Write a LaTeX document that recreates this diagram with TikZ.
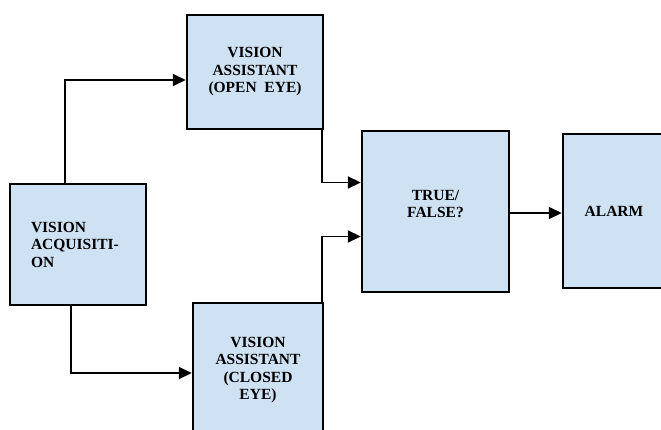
\documentclass[tikz,border=0pt]{standalone}
\usepackage{fontspec}
\setmainfont{Liberation Serif}
\usepackage{xcolor}
\usepackage{tikz}
\usetikzlibrary{arrows.meta,positioning,calc}
\definecolor{BoxFill}{RGB}{207,226,243}
\tikzset{
  block/.style={draw=black,fill=BoxFill,line width=2.4pt,inner sep=0pt,
    align=center,font=\fontsize{15.5}{17.5}\selectfont\bfseries},
  flow/.style={line width=1.8pt,-{Triangle[length=13pt,width=12pt]}},
  link/.style={line width=1.8pt}
}

\begin{document}
\begin{tikzpicture}[x=1pt,y=-1pt]
  % page frame, boxes at the right and bottom run off it
  \useasboundingbox (0,0) rectangle (661,430);
  \clip (0,0) rectangle (661,430);

  % blocks
  \node[block,minimum width=136pt,minimum height=121pt,align=left,text width=94pt]
    (acq) at (78,244.5) {VISION\\ACQUISITI-\\ON};
  \node[block,minimum width=136pt,minimum height=114pt]
    (open) at (255,72) {VISION\\ASSISTANT\\(OPEN~~EYE)};
  \node[block,minimum width=130pt,minimum height=134pt]
    (closed) at (258,370) {VISION\\ASSISTANT\\(CLOSED\\EYE)};
  \node[block,minimum width=147pt,minimum height=161pt]
    (tf) at (435.5,211.5) {TRUE/\\FALSE?\\[-2pt]};
  \node[block,minimum width=102pt,minimum height=154pt]
    (alarm) at (614,211) {ALARM};

  % connectors
  \draw[flow] ([xshift=-13pt]acq.north) |- ([yshift=-8pt]open.west);
  \draw[flow] ([xshift=-7pt]acq.south) |- ([yshift=-3pt]closed.west);
  \draw[flow] ([xshift=-2pt]open.south east) |- ([yshift=29pt]tf.west);
  \draw[flow] ([xshift=-2pt]closed.north east) |- ([yshift=-25pt]tf.west);
  \draw[flow] ([yshift=-1.5pt]tf.east) -- ([yshift=-2pt]alarm.west);
\end{tikzpicture}
\end{document}
